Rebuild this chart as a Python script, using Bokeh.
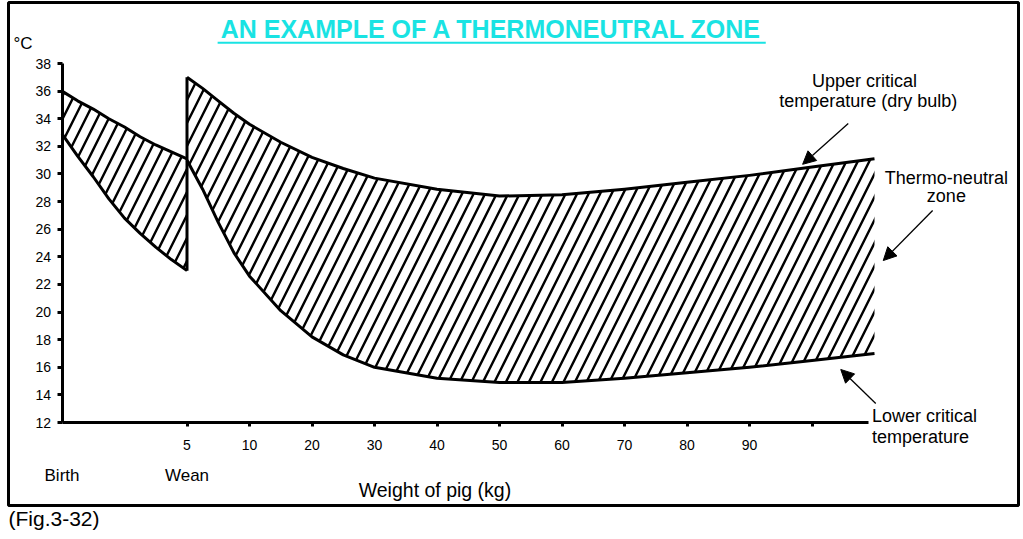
from bokeh.plotting import figure
from bokeh.models import Range1d, LinearAxis, FixedTicker, Label, Arrow, NormalHead, Title
from bokeh.embed import file_html
from bokeh.resources import INLINE

# ---- data (x = position on the ordinal weight axis: 0 = birth, 2 = wean/5 kg, 3 = 10 kg ...) ----
pre_x = [0, 0.25, 0.5, 0.75, 1, 1.25, 1.5, 1.75, 2]
pre_upper = [36.0, 35.3, 34.7, 34.0, 33.4, 32.7, 32.1, 31.6, 31.1]
pre_lower = [32.9, 31.3, 29.8, 28.2, 26.8, 25.7, 24.7, 23.8, 23.0]

post_x = [2, 2.25, 2.5, 2.75, 3, 3.5, 4, 4.5, 5, 6, 7, 8, 9, 10, 11, 12, 13]
post_upper = [37.0, 36.2, 35.3, 34.4, 33.6, 32.3, 31.2, 30.4, 29.7, 28.9, 28.4, 28.5, 28.9, 29.4, 29.9, 30.5, 31.1]
post_lower = [31.0, 28.9, 26.5, 24.3, 22.6, 20.1, 18.2, 16.9, 16.0, 15.2, 14.9, 14.9, 15.2, 15.6, 16.0, 16.5, 17.0]

weight_ticks = [2, 3, 4, 5, 6, 7, 8, 9, 10, 11, 12]
weight_labels = ["5", "10", "20", "30", "40", "50", "60", "70", "80", "90", ""]
stage_ticks = [0, 2]
stage_labels = ["Birth", "Wean"]
temp_ticks = [12, 14, 16, 18, 20, 22, 24, 26, 28, 30, 32, 34, 36, 38]

FONT = "Liberation Sans"

p = figure(width=1023, height=539, output_backend="svg", toolbar_location=None, title=None,
           x_range=Range1d(-0.856, 15.304), y_range=Range1d(5.99, 42.42),
           x_axis_type=None, y_axis_type=None)
p.min_border_left = 8
p.min_border_right = 5
p.min_border_top = 2
p.min_border_bottom = 34
p.outline_line_color = "black"
p.outline_line_width = 3
p.background_fill_color = "white"
p.border_fill_color = "white"

# ---- axes inside the framed box ----
yaxis = LinearAxis(fixed_location=0, ticker=FixedTicker(ticks=temp_ticks), bounds=(12, 38))
yaxis.axis_line_width = 3
yaxis.major_tick_line_width = 3
yaxis.major_tick_out = 5
yaxis.major_tick_in = 0
yaxis.minor_tick_line_color = None
yaxis.major_label_standoff = 6
yaxis.major_label_text_font = FONT
yaxis.major_label_text_font_size = "14px"
yaxis.major_label_text_color = "black"
p.add_layout(yaxis, "left")

xaxis = LinearAxis(fixed_location=12, ticker=FixedTicker(ticks=weight_ticks), bounds=(0, 12.9),
                   major_label_overrides=dict(zip(weight_ticks, weight_labels)))
xaxis.axis_line_width = 3
xaxis.major_tick_line_width = 3
xaxis.major_tick_out = 4
xaxis.major_tick_in = 0
xaxis.minor_tick_line_color = None
xaxis.major_label_standoff = 13
xaxis.major_label_text_font = FONT
xaxis.major_label_text_font_size = "14px"
xaxis.major_label_text_color = "black"
p.add_layout(xaxis, "below")

stage_axis = LinearAxis(fixed_location=12, ticker=FixedTicker(ticks=stage_ticks),
                        major_label_overrides=dict(zip(stage_ticks, stage_labels)))
stage_axis.axis_line_color = None
stage_axis.major_tick_line_color = None
stage_axis.minor_tick_line_color = None
stage_axis.major_tick_out = 0
stage_axis.major_tick_in = 0
stage_axis.major_label_standoff = 43
stage_axis.major_label_text_font = FONT
stage_axis.major_label_text_font_size = "17px"
stage_axis.major_label_text_color = "black"
p.add_layout(stage_axis, "below")

# ---- thermoneutral zones (hatched) ----
hatch = dict(fill_color=None, hatch_pattern="/", hatch_color="black", hatch_scale=23, hatch_weight=2.4)
p.varea(x=pre_x, y1=pre_lower, y2=pre_upper, **hatch)
p.varea(x=post_x, y1=post_lower, y2=post_upper, **hatch)

line_style = dict(line_color="black", line_width=3, line_join="round")
p.line(pre_x, pre_upper, **line_style)
p.line(pre_x, pre_lower, **line_style)
p.line(post_x, post_upper, **line_style)
p.line(post_x, post_lower, **line_style)
p.segment(x0=[pre_x[-1]], y0=[pre_lower[-1]], x1=[post_x[0]], y1=[post_upper[0]], **line_style)

# ---- texts ----
p.add_layout(Label(x=6.872, y=40.5, text="AN EXAMPLE OF A THERMONEUTRAL ZONE", text_align="center",
                   text_baseline="alphabetic", text_font=FONT, text_font_style="bold",
                   text_font_size="25px", text_color="#19E3E3"))
p.segment(x0=[2.49], y0=[39.5], x1=[11.26], y1=[39.5], line_color="#19E3E3", line_width=2)

p.add_layout(Label(x=-0.776, y=39.45, text="°C", text_baseline="alphabetic", text_font=FONT,
                   text_font_size="17px", text_color="black"))
p.add_layout(Label(x=5.967, y=7.1, text="Weight of pig (kg)", text_align="center",
                   text_baseline="alphabetic", text_font=FONT, text_font_size="19.5px", text_color="black"))

ann = dict(text_baseline="alphabetic", text_font=FONT, text_font_size="18px", text_color="black")
p.add_layout(Label(x=12.84, y=36.75, text="Upper critical", text_align="center", **ann))
p.add_layout(Label(x=12.9, y=35.3, text="temperature (dry bulb)", text_align="center", **ann))
p.add_layout(Label(x=14.15, y=29.7, text="Thermo-neutral", text_align="center", **ann))
p.add_layout(Label(x=14.15, y=28.4, text="zone", text_align="center", **ann))
p.add_layout(Label(x=12.96, y=12.45, text="Lower critical", text_align="left", **ann))
p.add_layout(Label(x=12.96, y=10.95, text="temperature", text_align="left", **ann))

head = dict(size=13, fill_color="black", line_color="black")
p.add_layout(Arrow(end=NormalHead(**head), x_start=12.58, y_start=33.65, x_end=11.85, y_end=30.7,
                   line_width=1.3, line_color="black"))
p.add_layout(Arrow(end=NormalHead(**head), x_start=13.93, y_start=27.35, x_end=13.14, y_end=23.73,
                   line_width=1.3, line_color="black"))
p.add_layout(Arrow(end=NormalHead(**head), x_start=13.02, y_start=13.38, x_end=12.46, y_end=15.84,
                   line_width=1.3, line_color="black"))

p.add_layout(Title(text="(Fig.3-32)", align="left", vertical_align="middle", text_font=FONT,
                   text_font_size="21px", text_font_style="normal", text_color="black",
                   standoff=0, offset=0), "below")

open("out.html", "w").write(file_html(p, INLINE))
